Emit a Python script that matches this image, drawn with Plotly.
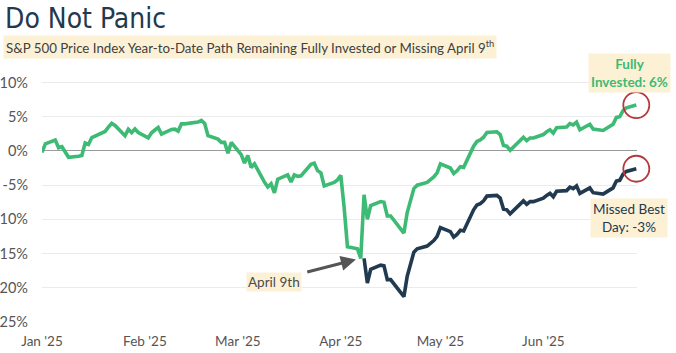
import pandas as pd
import plotly.graph_objects as go

# ---------------- data ----------------
jan_days = [2, 3, 6, 7, 8, 10, 13, 14, 15, 16, 17, 21, 22, 23, 24, 27, 28, 29, 30, 31]
feb_days = [3, 4, 5, 6, 7, 10, 11, 12, 13, 14, 18, 19, 20, 21, 24, 25, 26, 27, 28]
mar_days = [3, 4, 5, 6, 7, 10, 11, 12, 13, 14, 17, 18, 19, 20, 21, 24, 25, 26, 27, 28, 31]
apr_days = [1, 2, 3, 4, 7, 8, 9, 10, 11, 14, 15, 16, 17, 21, 22, 23, 24, 25, 28, 29, 30]
may_days = [1, 2, 5, 6, 7, 8, 9, 12, 13, 14, 15, 16, 19, 20, 21, 22, 23, 27, 28, 29, 30]
jun_days = [2, 3, 4, 5, 6, 9, 10, 11, 12, 13, 16, 17, 18, 20, 23, 24, 25, 26, 27, 30]

# Fully invested YTD path (%)
fully_jan = [-0.22, 1.03, 1.59, 0.47, 0.62, -0.93, -0.77, -0.66, 1.16, 0.95, 1.96, 2.85, 3.48, 4.03, 3.73, 2.22, 3.16, 2.68, 3.22, 2.70]
fully_feb = [1.92, 2.66, 3.06, 3.43, 2.45, 3.14, 3.18, 2.90, 3.97, 3.96, 4.22, 4.46, 4.01, 2.24, 1.73, 1.25, 1.27, -0.34, 1.24]
fully_mar = [-0.54, -1.76, -0.66, -2.43, -1.89, -4.54, -5.26, -4.80, -6.12, -4.13, -3.51, -4.54, -3.51, -3.72, -3.64, -1.94, -1.78, -2.88, -3.20, -5.11, -4.59]
fully_apr = [-4.23, -3.58, -8.25, -14.0, -14.3, -15.7, -6.4, -10.0, -8.0, -7.4, -7.5, -9.5, -9.5, -12.0, -9.0, -7.3, -5.5, -5.0, -4.6, -4.2, -3.8]
fully_may = [-3.2, -1.9, -2.5, -3.3, -2.9, -2.3, -2.4, 0.7, 1.4, 1.6, 2.0, 2.7, 2.8, 2.4, 0.8, 0.7, 0.1, 2.0, 1.5, 1.9, 1.9]
fully_jun = [2.4, 2.8, 3.1, 2.6, 3.4, 3.5, 4.0, 3.8, 4.2, 3.1, 3.9, 3.2, 3.1, 3.0, 3.9, 4.9, 5.0, 5.9, 6.3, 6.7]

# Missed April 9th path (%), from April 9th onward
missed_apr = [-15.7, -19.3, -17.3, -16.7, -16.8, -18.8, -18.8, -21.3, -18.3, -16.6, -14.8, -14.3, -13.9, -13.5, -13.1]
missed_may = [-12.5, -11.2, -11.8, -12.6, -12.2, -11.6, -11.7, -8.6, -7.9, -7.7, -7.3, -6.6, -6.5, -6.9, -8.5, -8.6, -9.2, -7.3, -7.8, -7.4, -7.4]
missed_jun = [-6.9, -6.5, -6.2, -6.7, -5.9, -5.8, -5.3, -5.5, -5.1, -6.2, -5.4, -6.1, -6.2, -6.3, -5.4, -4.4, -4.3, -3.4, -3.0, -2.6]

y_ticks = [10, 5, 0, -5, -10, -15, -20, -25]
title_text = "Do Not Panic"
subtitle_text = "S&amp;P 500 Price Index Year-to-Date Path Remaining Fully Invested or Missing April 9<sup>th</sup>"
label_fully = "Fully<br>Invested: 6%"
label_missed = "Missed Best<br>Day: -3%"
label_apr9 = "April 9th"

# ---------------- build ----------------
def mk(month, days):
    return [f"2025-{month:02d}-{d:02d}" for d in days]

trade_dates = (mk(1, jan_days) + mk(2, feb_days) + mk(3, mar_days) +
               mk(4, apr_days) + mk(5, may_days) + mk(6, jun_days))
# the reference plots each close one calendar day earlier
dates = pd.to_datetime(trade_dates) - pd.Timedelta(days=1)

fully = fully_jan + fully_feb + fully_mar + fully_apr + fully_may + fully_jun
missed = missed_apr + missed_may + missed_jun
missed_dates = dates[len(dates) - len(missed):]

GREEN = "#3dba74"
NAVY = "#213a4f"
RED = "#b5393c"
CREAM = "#fdf1d5"
FONT = "Lato"
TITLE_FONT = "'Liberation Sans Narrow', 'DejaVu Sans Condensed', 'Roboto Condensed', Roboto, sans-serif"

fig = go.Figure()
fig.add_trace(go.Scatter(x=dates, y=fully, mode="lines",
                         line=dict(color=GREEN, width=3.6), hoverinfo="skip"))
fig.add_trace(go.Scatter(x=missed_dates, y=missed, mode="lines",
                         line=dict(color=NAVY, width=3.6), hoverinfo="skip"))
fig.add_trace(go.Scatter(x=[dates[-1], missed_dates[-1]], y=[fully[-1], missed[-1]],
                         mode="markers", cliponaxis=False,
                         marker=dict(symbol="circle-open", size=26, color=RED,
                                     line=dict(width=1.8, color=RED)),
                         hoverinfo="skip"))

W, H = 676, 353
ml, mr, mt, mb = 42, 39, 62, 31
pw, ph = W - ml - mr, H - mt - mb

def px(x):
    return (x - ml) / pw

def py(y):
    return (H - mb - y) / ph

ann = []
ann.append(dict(text=title_text, xref="paper", yref="paper", x=px(3), y=py(19),
                xanchor="left", yanchor="middle", showarrow=False,
                font=dict(family=TITLE_FONT, size=28, color="#23394d", weight=500)))
ann.append(dict(text=subtitle_text, xref="paper", yref="paper", x=px(3), y=py(47),
                xanchor="left", yanchor="middle", showarrow=False, bgcolor=CREAM,
                borderpad=2, font=dict(family=FONT, size=13.3, color="#404040")))
ann.append(dict(text=label_fully, xref="paper", yref="paper", x=px(629.5), y=py(73),
                xanchor="center", yanchor="middle", showarrow=False, bgcolor=CREAM,
                align="center", borderpad=2,
                font=dict(family=FONT, size=13.5, color=GREEN, weight="bold")))
ann.append(dict(text=label_missed, xref="paper", yref="paper", x=px(629), y=py(218),
                xanchor="center", yanchor="middle", showarrow=False, bgcolor=CREAM,
                align="center", borderpad=2,
                font=dict(family=FONT, size=13.5, color=NAVY)))
ann.append(dict(text=label_apr9, xref="paper", yref="paper", x=px(274), y=py(282),
                xanchor="center", yanchor="middle", showarrow=False, bgcolor=CREAM,
                borderpad=1, font=dict(family=FONT, size=13.5, color="#4a4a4a")))
i8 = trade_dates.index("2025-04-08")
ann.append(dict(text="", x=dates[i8], y=fully[i8], xref="x", yref="y",
                showarrow=True, ax=-55, ay=14, arrowhead=2, arrowsize=1,
                arrowwidth=3, arrowcolor="#555555", standoff=5))

fig.update_layout(
    width=W, height=H, margin=dict(l=ml, r=mr, t=mt, b=mb, autoexpand=False),
    paper_bgcolor="white", plot_bgcolor="white", showlegend=False,
    annotations=ann,
    font=dict(family=FONT, size=13, color="#555555"),
)
fig.update_xaxes(range=["2025-01-01", "2025-06-29 05:00"], showgrid=False,
                 tick0="2025-01-01", dtick="M1", tickformat="%b '%y",
                 ticks="", ticklabelstandoff=9, showline=False, zeroline=False,
                 tickfont=dict(family=FONT, size=13.5, color="#555555"))
fig.update_yaxes(range=[-25, 13], tickvals=y_ticks,
                 ticktext=[f"{v}%" for v in y_ticks],
                 showgrid=True, gridcolor="#ebebeb", gridwidth=1,
                 zeroline=True, zerolinecolor="#9a9a9a", zerolinewidth=1,
                 ticks="", ticklabelstandoff=13, showline=False,
                 tickfont=dict(family=FONT, size=14.5, color="#555555"))

fig.write_html("out.html")
